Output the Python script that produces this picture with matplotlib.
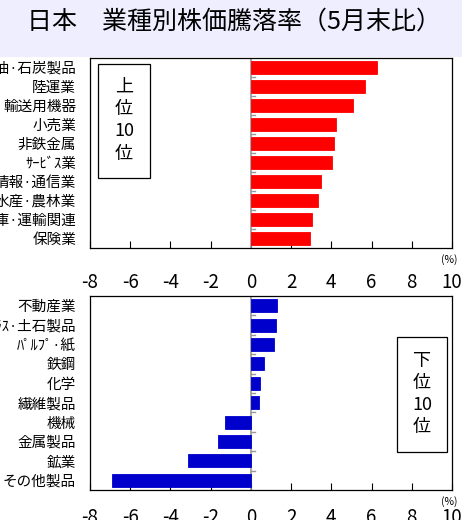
import matplotlib.pyplot as plt
from matplotlib.patches import Rectangle

plt.rcParams['font.family'] = ['Noto Sans CJK JP', 'DejaVu Sans']

# 上位10業種
top_names = ['石油·石炭製品', '陸運業', '輸送用機器', '小売業', '非鉄金属',
             'ｻｰﾋﾞｽ業', '情報·通信業', '水産·農林業', '倉庫·運輸関連', '保険業']
top_vals = [6.25, 5.67, 5.06, 4.24, 4.12, 4.04, 3.47, 3.33, 3.02, 2.94]

# 下位10業種
bot_names = ['不動産業', 'ｶﾞﾗｽ·土石製品', 'ﾊﾟﾙﾌﾟ·紙', '鉄鋼', '化学',
             '繊維製品', '機械', '金属製品', '鉱業', 'その他製品']
bot_vals = [1.32, 1.27, 1.15, 0.66, 0.46, 0.38, -1.27, -1.63, -3.15, -6.91]

xticks = [-8, -6, -4, -2, 0, 2, 4, 6, 8, 10]

W, H = 462, 520
fig = plt.figure(figsize=(W / 100, H / 100), dpi=100)
fig.patch.set_facecolor('white')

# タイトル帯
fig.patches.append(Rectangle((0, 1 - 57 / H), 1, 57 / H, transform=fig.transFigure,
                             facecolor='#eeeeff', edgecolor='none', zorder=0))
fig.text(27 / W, 1 - 22 / H, '日本　業種別株価騰落率（5月末比）', fontsize=18,
         ha='left', va='center', color='black')


def draw_panel(rect, names, vals, color, box_text, box_rect, text_xy, xpad):
    ax = fig.add_axes([rect[0] / W, 1 - rect[3] / H, (rect[2] - rect[0]) / W,
                       (rect[3] - rect[1]) / H])
    y = list(range(len(names)))
    ax.barh(y, vals, height=0.68, color=color, edgecolor=color, linewidth=0.6,
            zorder=3)
    ax.set_ylim(len(names) - 0.5, -0.5)
    ax.set_xlim(-8, 10)
    ax.set_yticks(y)
    ax.set_yticklabels(names, fontsize=10.5)
    ax.tick_params(axis='y', length=0, pad=10)
    ax.set_xticks(xticks)
    ax.set_xticklabels([str(t) for t in xticks], fontsize=13.5)
    ax.tick_params(axis='x', direction='in', length=5, pad=xpad, width=0.8)
    ax.axvline(0, color='#999999', linewidth=1.2, zorder=2)
    # 区切りの目盛
    for k in range(len(names) - 1):
        ax.plot([0, 0.2], [k + 0.5, k + 0.5], color='#999999', linewidth=1,
                zorder=2)
    for s in ax.spines.values():
        s.set_linewidth(0.9)
    ax.text(1.015, -0.06, '(%)', transform=ax.transAxes, fontsize=7.5,
            ha='right', va='center')
    ax.add_patch(Rectangle(box_rect[:2], box_rect[2], box_rect[3],
                           transform=ax.transAxes, facecolor='white',
                           edgecolor='black', linewidth=0.9, zorder=5))
    ax.text(text_xy[0], text_xy[1], box_text, transform=ax.transAxes,
            fontsize=13, ha='center', va='center', linespacing=1.3, zorder=6)
    return ax


draw_panel((90, 58, 452, 248), top_names, top_vals, '#ff0000',
           '上\n位\n10\n位', (0.022, 0.368, 0.144, 0.6), (0.094, 0.672), 17)
draw_panel((90, 296, 452, 490), bot_names, bot_vals, '#0000cc',
           '下\n位\n10\n位', (0.848, 0.196, 0.138, 0.593), (0.917, 0.495), 12)

fig.savefig('out.png', dpi=100, facecolor=fig.get_facecolor())
